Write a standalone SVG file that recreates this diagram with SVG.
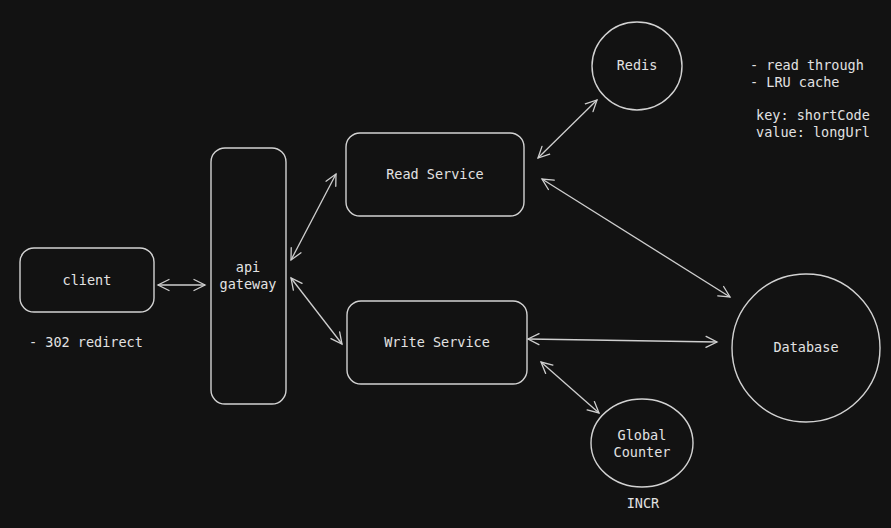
<svg xmlns="http://www.w3.org/2000/svg" width="891" height="528" viewBox="0 0 891 528">
<defs>
<marker id="ah" viewBox="-12 -7 14 14" markerWidth="14" markerHeight="14" refX="0" refY="0" orient="auto-start-reverse" markerUnits="userSpaceOnUse">
<path d="M-11,-5.5 L0,0 L-11,5.5" fill="none" stroke="#cfcfcf" stroke-width="1.3" stroke-linecap="round"/>
</marker>
<style>
.n{fill:none;stroke:#d2d2d2;stroke-width:1.4}
.t{fill:#e2e2e2;font-family:"DejaVu Sans Mono","Liberation Mono",monospace;font-size:13.5px}
.m{text-anchor:middle}
.c{stroke:#cfcfcf;stroke-width:1.3;fill:none;marker-start:url(#ah);marker-end:url(#ah)}
</style>
</defs>
<rect width="891" height="528" fill="#121212"/>
<g id="client"><rect class="n" x="20" y="248" width="134" height="64" rx="14"/><text class="t m" x="87" y="285">client</text></g>
<g id="gateway"><rect class="n" x="211" y="148" width="75" height="256" rx="14"/><text class="t m" x="248" y="272">api</text><text class="t m" x="248" y="289">gateway</text></g>
<g id="read"><rect class="n" x="346" y="133" width="178" height="83" rx="14"/><text class="t m" x="435" y="179">Read Service</text></g>
<g id="write"><rect class="n" x="347" y="301" width="180" height="83" rx="14"/><text class="t m" x="437" y="347">Write Service</text></g>
<g id="redis"><ellipse class="n" cx="637" cy="66" rx="45" ry="44"/><text class="t m" x="637" y="70">Redis</text></g>
<g id="database"><ellipse class="n" cx="806" cy="348" rx="74" ry="74"/><text class="t m" x="806" y="352">Database</text></g>
<g id="counter"><ellipse class="n" cx="642" cy="443" rx="51" ry="44"/><text class="t m" x="642" y="440">Global</text><text class="t m" x="642" y="457">Counter</text></g>
<g id="notes">
<text class="t" x="29" y="347">- 302 redirect</text>
<text class="t" x="750" y="70">- read through</text>
<text class="t" x="750" y="87">- LRU cache</text>
<text class="t" x="756" y="120">key: shortCode</text>
<text class="t" x="756" y="137">value: longUrl</text>
<text class="t m" x="643" y="508">INCR</text>
</g>
<g id="connectors">
<line class="c" x1="158" y1="285" x2="205" y2="285"/>
<line class="c" x1="291" y1="260" x2="336" y2="174"/>
<line class="c" x1="291" y1="278" x2="342" y2="344"/>
<line class="c" x1="538" y1="158" x2="597" y2="100"/>
<line class="c" x1="542" y1="179" x2="730" y2="297"/>
<line class="c" x1="528" y1="339" x2="717" y2="342"/>
<line class="c" x1="541" y1="362" x2="599" y2="413"/>
</g>
</svg>
